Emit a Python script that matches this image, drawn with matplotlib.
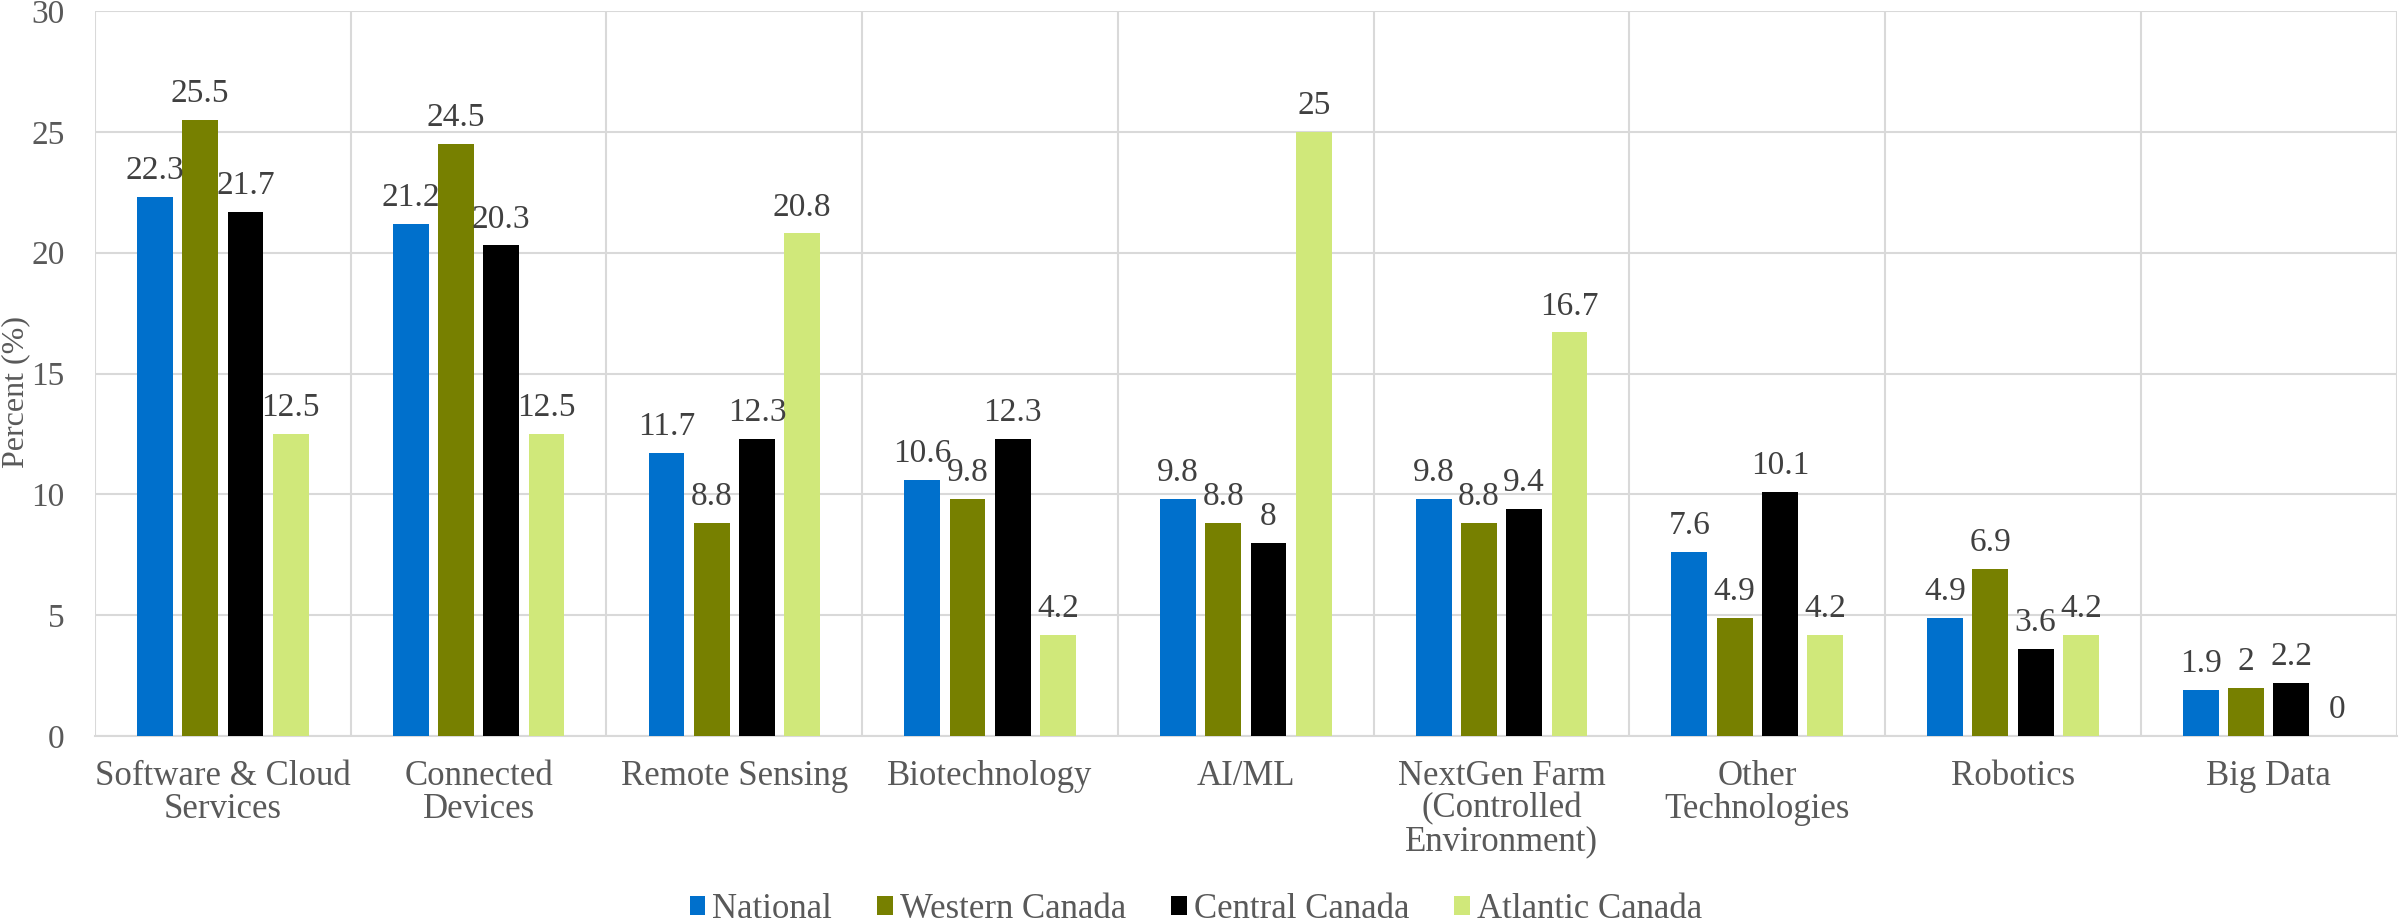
import matplotlib
matplotlib.use("Agg")
import matplotlib.pyplot as plt
import numpy as np

categories = ["Software & Cloud\nServices", "Connected\nDevices", "Remote Sensing",
              "Biotechnology", "AI/ML", "NextGen Farm\n(Controlled\nEnvironment)",
              "Other\nTechnologies", "Robotics", "Big Data"]
series_names = ["National", "Western Canada", "Central Canada", "Atlantic Canada"]
national = [22.3, 21.2, 11.7, 10.6, 9.8, 9.8, 7.6, 4.9, 1.9]
western = [25.5, 24.5, 8.8, 9.8, 8.8, 8.8, 4.9, 6.9, 2]
central = [21.7, 20.3, 12.3, 12.3, 8, 9.4, 10.1, 3.6, 2.2]
atlantic = [12.5, 12.5, 20.8, 4.2, 25, 16.7, 4.2, 4.2, 0]
colors = ["#0070CC", "#778000", "#000000", "#D0E87A"]

plt.rcParams['font.family'] = ['Liberation Serif', 'DejaVu Serif']

fig = plt.figure(figsize=(23.99, 9.23), dpi=100)
ax = fig.add_axes([0.0396, 0.2026, 0.9594, 0.7854])

x = np.arange(len(categories))
w = 0.14
step = 0.177
all_vals = [national, western, central, atlantic]
for i, (name, vals, c) in enumerate(zip(series_names, all_vals, colors)):
    pos = x + (i - 1.5) * step
    ax.bar(pos, vals, width=w, color=c, label=name, zorder=3)
    for p, v in zip(pos, vals):
        ax.text(p, v + 0.45, f"{v:g}", ha="center", va="bottom",
                fontsize=24, color="#404040", zorder=4)

ax.set_xlim(-0.5, len(categories) - 0.5)
ax.set_ylim(0, 30)
ax.set_yticks([0, 5, 10, 15, 20, 25, 30])
ax.set_xticks(x)
ax.set_xticklabels(categories, fontsize=25, color="#595959", linespacing=1.0)
ax.tick_params(axis="y", labelsize=24, labelcolor="#595959", length=0, pad=22)
ax.tick_params(axis="x", length=0, pad=17)

ax.set_xticks(np.arange(-0.5, len(categories)), minor=True)
ax.grid(axis="y", color="#d9d9d9", linewidth=1.5, zorder=0)
ax.grid(axis="x", which="minor", color="#d9d9d9", linewidth=1.5, zorder=0)
ax.grid(axis="x", which="major", visible=False)
ax.tick_params(axis="x", which="minor", length=0)
for s in ["top", "right", "left"]:
    ax.spines[s].set_visible(False)
ax.spines["bottom"].set_color("#d9d9d9")
ax.spines["bottom"].set_linewidth(1.5)

ax.set_ylabel("Percent (%)", fontsize=23, color="#595959", va="top")
ax.yaxis.set_label_coords(0.0005, 1 - 392 / 923, transform=fig.transFigure)

fig.legend(loc="lower center", bbox_to_anchor=(0.4985, -0.037), ncol=4, frameon=False,
           fontsize=25, labelcolor="#595959", handlelength=0.45, handleheight=0.45,
           handletextpad=0.2, columnspacing=1.3)

fig.savefig("out.png", dpi=100)
